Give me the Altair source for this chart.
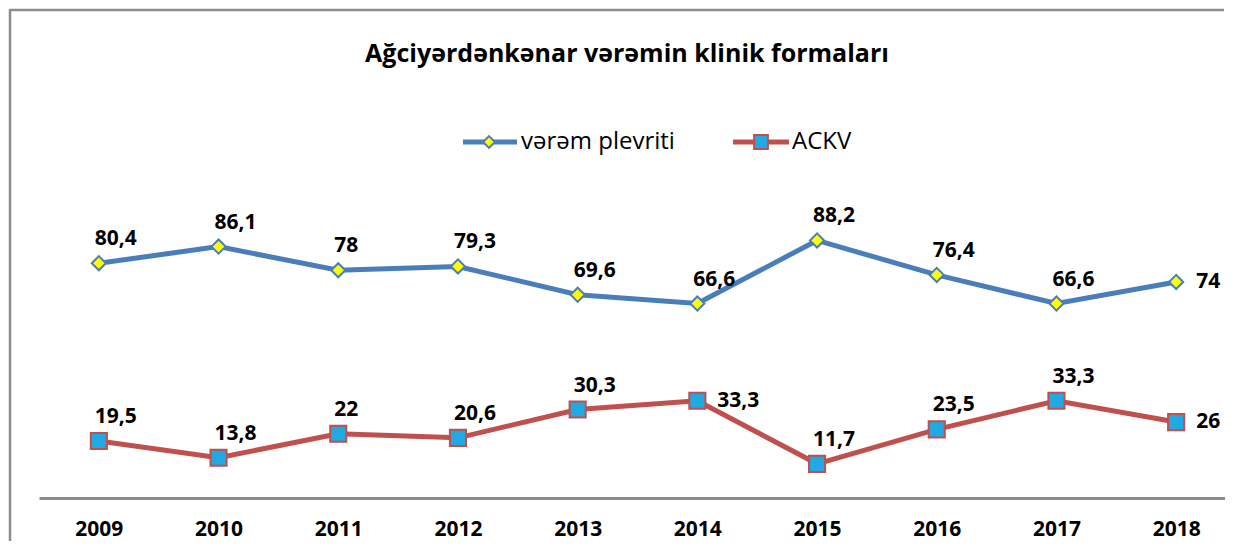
import altair as alt
import pandas as pd

years = ["2009", "2010", "2011", "2012", "2013", "2014", "2015", "2016", "2017", "2018"]
plevrit = [80.4, 86.1, 78, 79.3, 69.6, 66.6, 88.2, 76.4, 66.6, 74]
ackv = [19.5, 13.8, 22, 20.6, 30.3, 33.3, 11.7, 23.5, 33.3, 26]
series_names = ["vərəm plevriti", "ACKV"]
title_text = "Ağciyərdənkənar vərəmin klinik formaları"

BLUE = "#4A7EBB"
RED = "#C0504D"
YELLOW = "#FFFF00"
CYAN = "#22A9E1"
FONT = "Open Sans"

W = 1180
H = 292
PAD = {"left": 31, "top": 198, "right": 6, "bottom": 44}

rows = []
for name, vals, right_years in [(series_names[0], plevrit, {"2018"}),
                                (series_names[1], ackv, {"2014", "2018"})]:
    for y, v in zip(years, vals):
        rows.append({
            "year": y,
            "value": v,
            "series": name,
            "label": f"{v:g}".replace(".", ","),
            "side": "right" if y in right_years else "above",
        })
df = pd.DataFrame(rows)

W_RANGE = 1197
x_enc = alt.X(
    "year:O",
    scale=alt.Scale(type="point", padding=0.5, range=[0, W_RANGE]),
    axis=alt.Axis(
        title=None, labelAngle=0, ticks=False, domainColor="#8c8c8c",
        domainWidth=3, labelFont=FONT, labelFontSize=21, labelFontWeight="bold",
        labelColor="#000000", labelPadding=20, grid=False,
    ),
)
y_enc = alt.Y("value:Q", scale=alt.Scale(domain=[0, 100]), axis=None)

sdom = series_names
base = alt.Chart(df)

lines = base.mark_line(strokeWidth=5).encode(
    x=x_enc, y=y_enc,
    color=alt.Color("series:N", scale=alt.Scale(domain=sdom, range=[BLUE, RED]), legend=None),
    detail="series:N",
)
points = base.mark_point(filled=True, strokeWidth=2, opacity=1).encode(
    x=x_enc, y=y_enc,
    shape=alt.Shape("series:N", scale=alt.Scale(domain=sdom, range=["diamond", "square"]), legend=None),
    fill=alt.Fill("series:N", scale=alt.Scale(domain=sdom, range=[YELLOW, CYAN]), legend=None),
    stroke=alt.Stroke("series:N", scale=alt.Scale(domain=sdom, range=[BLUE, RED]), legend=None),
    size=alt.Size("series:N", scale=alt.Scale(domain=sdom, range=[200, 260]), legend=None),
)
labels_above = base.transform_filter(alt.datum.side == "above").mark_text(
    align="left", baseline="middle", dx=-4, dy=-24, font=FONT, fontSize=21,
    fontWeight="bold", color="#000000",
).encode(x=x_enc, y=y_enc, text="label:N")
labels_right = base.transform_filter(alt.datum.side == "right").mark_text(
    align="left", baseline="middle", dx=20, dy=0, font=FONT, fontSize=21,
    fontWeight="bold", color="#000000",
).encode(x=x_enc, y=y_enc, text="label:N")

one = pd.DataFrame({"k": [0]})
frame_top = alt.Chart(one).mark_rule(color="#8c8c8c", strokeWidth=2.5).encode(
    x=alt.value(-29), x2=alt.value(W + PAD["right"] - 1), y=alt.value(-196)
)
frame_left = alt.Chart(one).mark_rule(color="#8c8c8c", strokeWidth=2.5).encode(
    x=alt.value(-29), y=alt.value(-197), y2=alt.value(H + PAD["bottom"] - 1)
)
title = alt.Chart(one).mark_text(
    font=FONT, fontSize=25, fontWeight="bold", color="#000000", baseline="middle"
).encode(x=alt.value(588), y=alt.value(-152), text=alt.value(title_text))

LY = -64
leg = []
for name, col, shape, fill, size, lx1, lx2, mx, tx in [
    (series_names[0], BLUE, "diamond", YELLOW, 140, 424, 478, 450, 482),
    (series_names[1], RED, "square", CYAN, 190, 694, 750, 722, 753),
]:
    leg.append(alt.Chart(one).mark_rule(strokeWidth=5, color=col).encode(
        x=alt.value(lx1), x2=alt.value(lx2), y=alt.value(LY)))
    leg.append(alt.Chart(one).mark_point(shape=shape, filled=True, fill=fill, stroke=col,
                                         strokeWidth=2, size=size, opacity=1).encode(
        x=alt.value(mx), y=alt.value(LY)))
    leg.append(alt.Chart(one).mark_text(align="left", baseline="middle", font=FONT,
                                        fontSize=24, color="#000000").encode(
        x=alt.value(tx), y=alt.value(LY), text=alt.value(name)))

chart = alt.layer(frame_top, frame_left, title, *leg, lines, points, labels_above, labels_right).properties(
    width=W, height=H,
    autosize=alt.AutoSizeParams(type="none"),
    padding=PAD,
    background="#ffffff",
).configure_view(strokeWidth=0, stroke=None)

chart.save("out.html", embed_options={"renderer": "svg", "actions": False})
